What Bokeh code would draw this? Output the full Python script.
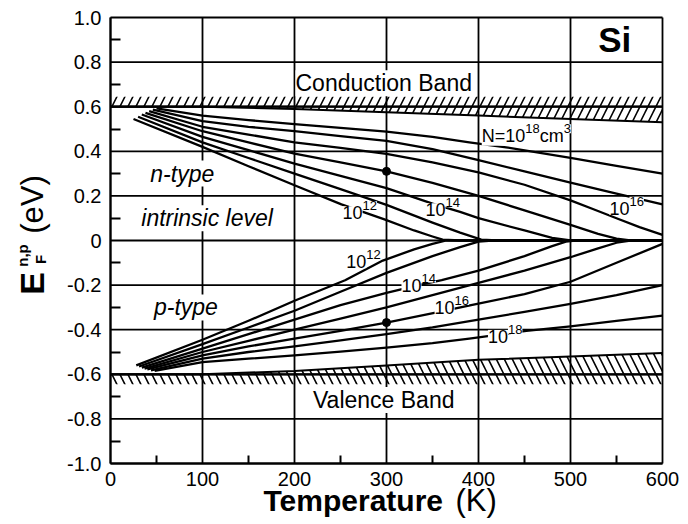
from bokeh.plotting import figure
from bokeh.models import Label, FixedTicker, Range1d
from bokeh.embed import file_html
from bokeh.resources import INLINE

FONT = "Liberation Sans"

# ---------------- data ----------------
x_ticks = [0, 100, 200, 300, 400, 500, 600]
x_minor = [50, 150, 250, 350, 450, 550]
y_ticks = [-1.0, -0.8, -0.6, -0.4, -0.2, 0.0, 0.2, 0.4, 0.6, 0.8, 1.0]
y_minor = [-0.9, -0.7, -0.5, -0.3, -0.1, 0.1, 0.3, 0.5, 0.7, 0.9]
y_tick_labels = ["-1.0", "-0.8", "-0.6", "-0.4", "-0.2", "0", "0.2", "0.4", "0.6", "0.8", "1.0"]

# band edges (eV, relative to intrinsic level)
band_T = [0, 100, 200, 300, 400, 500, 600]
Ec = [0.60, 0.60, 0.59, 0.575, 0.56, 0.545, 0.53]
Ev = [-0.60, -0.60, -0.585, -0.56, -0.535, -0.52, -0.505]
Ec_edge = 0.6
Ev_edge = -0.6

# n-type Fermi levels, N = 1e12 ... 1e18 cm^-3
n12_T = [25, 100, 150, 200, 251, 297, 330, 350, 361, 380, 600]
n12_E = [0.545, 0.42, 0.333, 0.248, 0.162, 0.096, 0.045, 0.018, 0.004, 0.0, 0.0]
n13_T = [30, 100, 150, 200, 250, 300, 350, 380, 403, 420, 600]
n13_E = [0.555, 0.44, 0.37, 0.30, 0.23, 0.16, 0.08, 0.035, 0.004, 0.0, 0.0]
n14_T = [34, 100, 150, 200, 250, 300, 350, 380, 400, 450, 480, 500, 600]
n14_E = [0.565, 0.465, 0.405, 0.345, 0.29, 0.235, 0.165, 0.128, 0.10, 0.045, 0.012, 0.0, 0.0]
n15_T = [38, 100, 150, 200, 250, 300, 350, 400, 450, 500, 530, 550, 565, 600]
n15_E = [0.572, 0.49, 0.44, 0.39, 0.35, 0.31, 0.258, 0.20, 0.135, 0.07, 0.03, 0.008, 0.0, 0.0]
n16_T = [42, 100, 150, 200, 250, 300, 350, 400, 450, 500, 525, 550, 575, 600]
n16_E = [0.58, 0.51, 0.475, 0.44, 0.415, 0.388, 0.35, 0.305, 0.25, 0.18, 0.14, 0.10, 0.06, 0.025]
n17_T = [46, 100, 150, 200, 250, 300, 350, 400, 450, 500, 550, 600]
n17_E = [0.587, 0.535, 0.51, 0.49, 0.468, 0.447, 0.41, 0.36, 0.31, 0.26, 0.21, 0.162]
n18_T = [50, 100, 150, 200, 250, 300, 350, 390, 430, 500, 550, 600]
n18_E = [0.592, 0.56, 0.54, 0.522, 0.505, 0.488, 0.465, 0.44, 0.418, 0.37, 0.335, 0.30]

# p-type Fermi levels, N = 1e12 ... 1e18 cm^-3
p12_T = [28, 100, 150, 200, 255, 296, 330, 350, 365, 600]
p12_E = [-0.56, -0.445, -0.36, -0.27, -0.178, -0.09, -0.04, -0.015, 0.0, 0.0]
p13_T = [31, 100, 150, 200, 250, 300, 350, 380, 400, 415, 600]
p13_E = [-0.565, -0.465, -0.39, -0.315, -0.23, -0.145, -0.07, -0.03, -0.005, 0.0, 0.0]
p14_T = [34, 100, 150, 200, 250, 300, 335, 360, 400, 450, 480, 495, 505, 600]
p14_E = [-0.57, -0.485, -0.42, -0.355, -0.29, -0.235, -0.20, -0.178, -0.135, -0.07, -0.025, -0.005, 0.0, 0.0]
p15_T = [37, 100, 150, 200, 250, 300, 350, 400, 450, 500, 530, 550, 565, 600]
p15_E = [-0.575, -0.50, -0.45, -0.40, -0.35, -0.30, -0.245, -0.19, -0.135, -0.075, -0.035, -0.01, 0.0, 0.0]
p16_T = [40, 100, 150, 200, 250, 300, 352, 392, 450, 500, 550, 600]
p16_E = [-0.578, -0.515, -0.475, -0.44, -0.405, -0.368, -0.325, -0.29, -0.24, -0.185, -0.10, -0.015]
p17_T = [44, 100, 150, 200, 250, 300, 350, 400, 450, 500, 550, 600]
p17_E = [-0.582, -0.53, -0.50, -0.475, -0.448, -0.42, -0.39, -0.355, -0.32, -0.284, -0.245, -0.20]
p18_T = [48, 100, 150, 200, 250, 300, 350, 390, 452, 500, 550, 600]
p18_E = [-0.585, -0.545, -0.53, -0.515, -0.498, -0.48, -0.46, -0.44, -0.405, -0.385, -0.36, -0.337]

# marked points at 300 K
dot_T = [300, 300]
dot_E = [0.31, -0.368]

# curve labels: list of (text, is_superscript) pieces, T, E
curve_labels = [
    ([("10", False), ("12", True)], 271, 0.125),
    ([("10", False), ("14", True)], 361, 0.138),
    ([("10", False), ("16", True)], 561, 0.145),
    ([("N=10", False), ("18", True), ("cm", False), ("3", True)], 452, 0.47),
    ([("10", False), ("12", True)], 275, -0.095),
    ([("10", False), ("14", True)], 335, -0.20),
    ([("10", False), ("16", True)], 371, -0.30),
    ([("10", False), ("18", True)], 429, -0.43),
]
region_labels = [
    ("Conduction Band", 297, 0.705, "normal"),
    ("Valence Band", 297, -0.715, "normal"),
    ("n-type", 78, 0.30, "italic"),
    ("intrinsic level", 105, 0.10, "italic"),
    ("p-type", 82, -0.30, "italic"),
]

# ---------------- layout (pixels) ----------------
W, H = 684, 520
PL, PR, PT, PB = 110, 662, 17, 463          # plot box inside the canvas
X0, X1, Y0, Y1 = x_ticks[0], x_ticks[-1], y_ticks[0], y_ticks[-1]
SX = (PR - PL) / (X1 - X0)
SY = (PB - PT) / (Y1 - Y0)


def dx(px):
    return X0 + (px - PL) / SX


def dy(py):
    return Y1 - (py - PT) / SY


p = figure(width=W, height=H,
           x_range=Range1d(dx(0), dx(W)), y_range=Range1d(dy(H), dy(0)),
           output_backend="svg", toolbar_location=None,
           min_border_left=0, min_border_right=0, min_border_top=0, min_border_bottom=0)
p.background_fill_color = "white"
p.border_fill_color = "white"
p.outline_line_color = None
p.xgrid.visible = False
p.ygrid.visible = False

# axes drawn at the plot box edges
p.xaxis.fixed_location = Y0
p.yaxis.fixed_location = X0
p.xaxis.bounds = (X0, X1)
p.yaxis.bounds = (Y0, Y1)
p.xaxis.ticker = FixedTicker(ticks=x_ticks, minor_ticks=x_minor)
p.yaxis.ticker = FixedTicker(ticks=y_ticks, minor_ticks=y_minor)
p.yaxis.major_label_overrides = {t: s for t, s in zip(y_ticks, y_tick_labels)}
for ax in (p.xaxis[0], p.yaxis[0]):
    ax.axis_line_color = "black"
    ax.axis_line_width = 2
    ax.major_tick_in = 0
    ax.major_tick_out = 0
    ax.minor_tick_out = 0
    ax.minor_tick_line_color = "black"
    ax.minor_tick_line_width = 2
    ax.major_label_text_font = FONT
    ax.major_label_text_font_size = "20px"
    ax.major_label_text_color = "black"
p.xaxis.minor_tick_in = 8
p.yaxis.minor_tick_in = 10
p.xaxis.major_label_standoff = 8
p.yaxis.major_label_standoff = 9

# grid lines (incl. the box), from the tick lists
p.segment(x0=x_ticks, y0=[Y0] * len(x_ticks), x1=x_ticks, y1=[Y1] * len(x_ticks),
          line_color="black", line_width=1.8)
p.segment(x0=[X0] * len(y_ticks), y0=y_ticks, x1=[X1] * len(y_ticks), y1=y_ticks,
          line_color="black", line_width=1.8)

# bands: hatched strips
cb_top = [Ec_edge + 0.045 for _ in band_T]
vb_bot = [Ev_edge - 0.045 for _ in band_T]
p.varea(x=band_T, y1=Ec, y2=cb_top, fill_color=None, fill_alpha=0,
        hatch_pattern="/", hatch_color="black", hatch_weight=1.6, hatch_scale=16)
p.varea(x=band_T, y1=vb_bot, y2=Ev, fill_color=None, fill_alpha=0,
        hatch_pattern="\\", hatch_color="black", hatch_weight=1.6, hatch_scale=16)
p.line(band_T, Ec, line_color="black", line_width=2)
p.line(band_T, Ev, line_color="black", line_width=2)
p.line(band_T, [Ec_edge for _ in band_T], line_color="black", line_width=2.2)
p.line(band_T, [Ev_edge for _ in band_T], line_color="black", line_width=2.2)

curves = [(n12_T, n12_E), (n13_T, n13_E), (n14_T, n14_E), (n15_T, n15_E),
          (n16_T, n16_E), (n17_T, n17_E), (n18_T, n18_E),
          (p12_T, p12_E), (p13_T, p13_E), (p14_T, p14_E), (p15_T, p15_E),
          (p16_T, p16_E), (p17_T, p17_E), (p18_T, p18_E)]
for T, E in curves:
    p.line(T, E, line_color="black", line_width=2.3, line_join="round")

p.scatter(dot_T, dot_E, size=8, color="black")

# --- text helpers ---
CW = {"0": .556, "1": .556, "2": .556, "3": .556, "4": .556, "6": .556, "8": .556,
      "N": .722, "=": .584, "c": .5, "m": .833}
BASE, SUP = 18, 13


def add_pieces(pieces, T, E):
    widths = [sum(CW.get(ch, .556) for ch in t) * (SUP if s else BASE) for t, s in pieces]
    off = -sum(widths) / 2
    for (t, s), w in zip(pieces, widths):
        p.add_layout(Label(x=T, y=E, x_offset=off, y_offset=(7 if s else 0), text=t,
                           text_align="left", text_baseline="middle", text_font=FONT,
                           text_font_size=f"{SUP if s else BASE}px", text_color="black",
                           background_fill_color="white"))
        off += w


for pieces, T, E in curve_labels:
    add_pieces(pieces, T, E)

for txt, T, E, style in region_labels:
    p.add_layout(Label(x=T, y=E, text=txt, text_align="center", text_baseline="middle",
                       text_font=FONT, text_font_size="23px", text_font_style=style,
                       text_color="black", background_fill_color="white"))
p.add_layout(Label(x=548, y=0.9, text="Si", text_align="center", text_baseline="middle",
                   text_font=FONT, text_font_size="35px", text_font_style="bold",
                   text_color="black"))


def title_label(text, px, py, size, style="normal", angle=0.0, align="left"):
    p.add_layout(Label(x=dx(px), y=dy(py), text=text, angle=angle, text_align=align,
                       text_baseline="middle", text_font=FONT, text_font_size=f"{size}px",
                       text_font_style=style, text_color="black"))


# axis titles
title_label("Temperature", 263, 500, 30, "bold")
title_label("(K)", 455, 500, 31)
title_label("E", 31, 283, 34, "bold", 1.5708, "center")
title_label("n,p", 22, 255, 15, "bold", 1.5708, "center")
title_label("F", 40, 259, 15, "bold", 1.5708, "center")
title_label("(eV)", 32, 204, 31, "normal", 1.5708, "center")

open("out.html", "w").write(file_html(p, INLINE))
